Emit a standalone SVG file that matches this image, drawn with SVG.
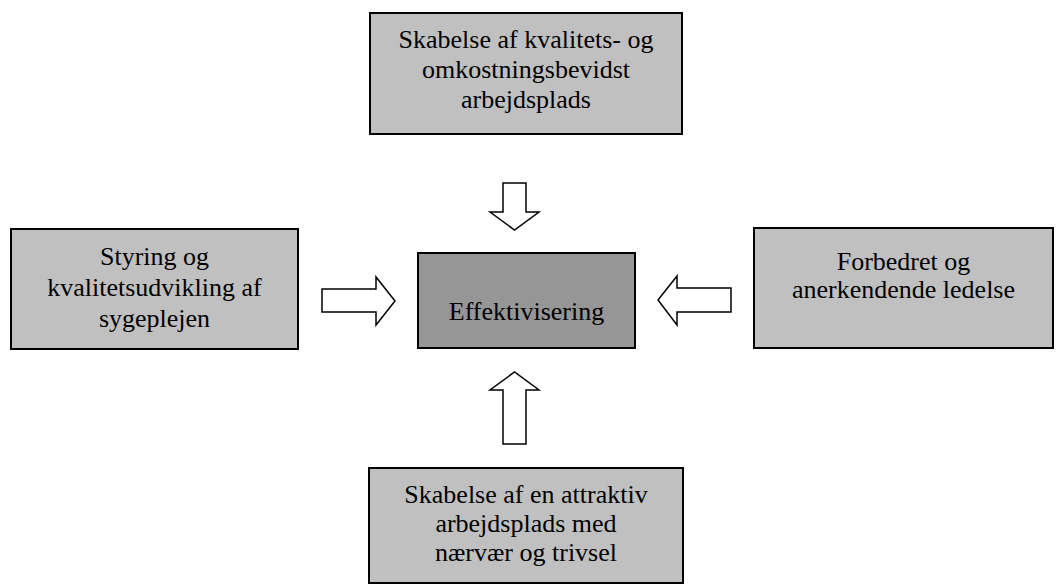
<svg xmlns="http://www.w3.org/2000/svg" width="1056" height="585" viewBox="0 0 1056 585">
<style>
.box{fill:#c0c0c0;stroke:#000;stroke-width:2}
.center{fill:#969696;stroke:#000;stroke-width:2}
.arrow{fill:#fff;stroke:#000;stroke-width:1.5;stroke-linejoin:miter}
text{font-family:"Liberation Serif","Times New Roman",serif;font-size:26px;fill:#000;text-anchor:middle}
</style>
<rect width="1056" height="585" fill="#fff"/>
<g id="node-top">
<rect class="box" x="370" y="13" width="312" height="121"/>
<text x="526" y="48">Skabelse af kvalitets- og</text>
<text x="526" y="78">omkostningsbevidst</text>
<text x="526" y="108">arbejdsplads</text>
</g>
<g id="node-left">
<rect class="box" x="11" y="229" width="287" height="120"/>
<text x="154.5" y="265">Styring og</text>
<text x="154.5" y="296">kvalitetsudvikling af</text>
<text x="154.5" y="327">sygeplejen</text>
</g>
<g id="node-center">
<rect class="center" x="418" y="253" width="217" height="95"/>
<text x="526.5" y="320">Effektivisering</text>
</g>
<g id="node-right">
<rect class="box" x="754" y="228" width="299" height="120"/>
<text x="903.5" y="270">Forbedret og</text>
<text x="903.5" y="298">anerkendende ledelse</text>
</g>
<g id="node-bottom">
<rect class="box" x="369" y="468" width="314" height="115"/>
<text x="526" y="503">Skabelse af en attraktiv</text>
<text x="526" y="532">arbejdsplads med</text>
<text x="526" y="561">nærvær og trivsel</text>
</g>
<g id="connectors">
<polygon class="arrow" points="503,183 526,183 526,212 539,212 514.5,230 490,212 503,212"/>
<polygon class="arrow" points="322,289 376,289 376,277 395,301 376,325 376,312 322,312"/>
<polygon class="arrow" points="731,288 677,288 677,276 658,300 677,325 677,312 731,312"/>
<polygon class="arrow" points="503,444 526,444 526,390 539,390 514.5,372 490,390 503,390"/>
</g>
</svg>
